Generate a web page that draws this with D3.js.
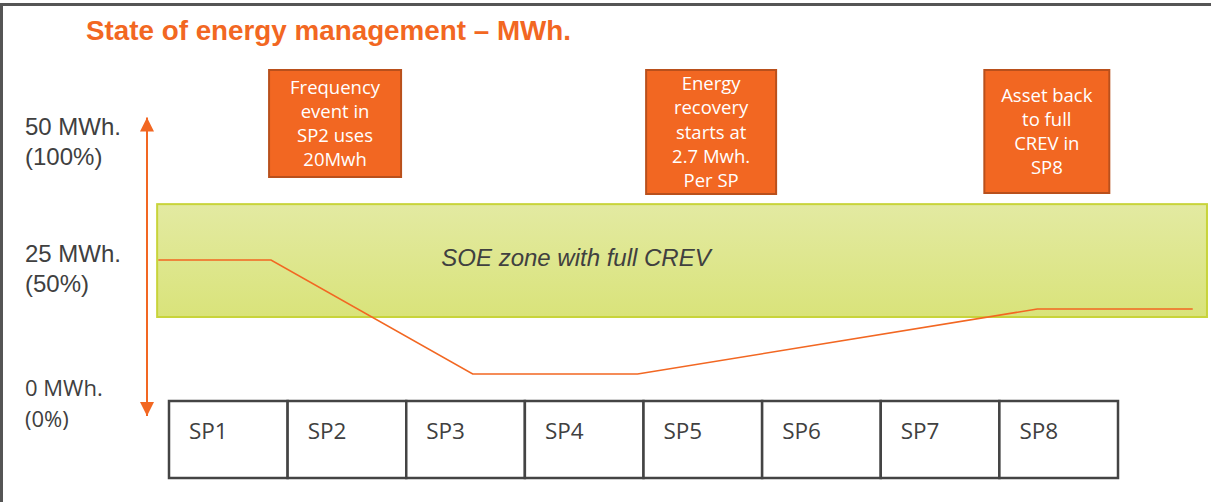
<!DOCTYPE html>
<html><head><meta charset="utf-8">
<script src="https://cdn.jsdelivr.net/npm/d3@7"></script>
<style>html,body{margin:0;padding:0;background:#fff;}svg{display:block;}</style>
</head><body>
<svg id="c" width="1211" height="502"></svg>
<script>
// ---- data ----
const title = "State of energy management \u2013 MWh.";
const periods = ["SP1","SP2","SP3","SP4","SP5","SP6","SP7","SP8"];
const yTicks = [50, 25, 0];
const yTickLabels = [["50 MWh.","(100%)"],["25 MWh.","(50%)"],["0 MWh.","(0%)"]];
// state of energy path: position in SP units (0 = start of SP1) and MWh
const soePos = [-0.09, 0.86, 2.56, 3.95, 7.32, 8.63];
const soeMWh = [25, 25, 5, 5, 16.4, 16.4];
const zoneMWh = [15, 34.8];
const zonePos = [-0.1, 8.75];
const zoneLabel = "SOE zone with full CREV";
const notes = [
  {pos: 1.40, lines: ["Frequency","event in","SP2 uses","20Mwh"]},
  {pos: 4.57, lines: ["Energy","recovery","starts at","2.7 Mwh.","Per SP"]},
  {pos: 7.40, lines: ["Asset back","to full","CREV in","SP8"]}
];

// ---- drawing ----
const svg = d3.select("#c");
const orange = "#F26722";
const x = d3.scaleLinear().domain([0, 8]).range([169, 1118]);
const y = d3.scaleLinear().domain([0, 50]).range([402.5, 117.5]);

// outer frame
svg.append("path").attr("d","M1.5,502 L1.5,4.5 L1211,4.5")
  .attr("fill","none").attr("stroke","#555").attr("stroke-width",3);

svg.append("text").text(title).attr("x",86).attr("y",40)
  .attr("font-family","Liberation Sans, Arial, sans-serif").attr("font-weight","bold")
  .attr("font-size",27.8).attr("fill",orange);

// gradient for zone
const defs = svg.append("defs");
const g = defs.append("linearGradient").attr("id","zg").attr("x1",0).attr("y1",0).attr("x2",0).attr("y2",1);
g.append("stop").attr("offset","0%").attr("stop-color","#E3EAA2");
g.append("stop").attr("offset","100%").attr("stop-color","#D9E37A");
defs.append("marker").attr("id","ah").attr("viewBox","0 0 10 10").attr("refX",10).attr("refY",5)
  .attr("markerWidth",14).attr("markerHeight",15).attr("markerUnits","userSpaceOnUse").attr("orient","auto")
  .append("path").attr("d","M0,0 L10,5 L0,10 Z").attr("fill",orange);

// zone band
svg.append("rect").attr("x",x(zonePos[0])).attr("y",y(zoneMWh[1]))
  .attr("width",x(zonePos[1])-x(zonePos[0])).attr("height",y(zoneMWh[0])-y(zoneMWh[1]))
  .attr("fill","url(#zg)").attr("stroke","#C8D43A").attr("stroke-width",2);
svg.append("text").text(zoneLabel).attr("x",576).attr("y",266)
  .attr("text-anchor","middle").attr("font-family","Liberation Sans, Arial, sans-serif")
  .attr("font-style","italic").attr("font-size",24).attr("fill","#404040");

// y axis double arrow
svg.append("line").attr("x1",147).attr("x2",147).attr("y1",y(24)).attr("y2",y(50))
  .attr("stroke",orange).attr("stroke-width",2).attr("marker-end","url(#ah)");
svg.append("line").attr("x1",147).attr("x2",147).attr("y1",y(26)).attr("y2",416)
  .attr("stroke",orange).attr("stroke-width",2).attr("marker-end","url(#ah)");

// y labels
yTicks.forEach((t,i)=>{
  const base = [135, 262, 396][i];
  const tx = svg.append("text").attr("font-family", i===2 ? "Open Sans, sans-serif" : "Liberation Sans, Arial, sans-serif")
    .attr("font-size", i===2 ? 22 : 24).attr("fill","#404040");
  yTickLabels[i].forEach((l,j)=>{
    tx.append("tspan").attr("x",25).attr("y",base + j*(i===2 ? 31 : 30)).text(l);
  });
});

// SP boxes
const boxTop = 401, boxBot = 478;
svg.selectAll(".sp").data(periods).join("rect").attr("class","sp")
  .attr("x",(d,i)=>x(i)).attr("y",boxTop).attr("width",x(1)-x(0)).attr("height",boxBot-boxTop)
  .attr("fill","#fff").attr("stroke","#444").attr("stroke-width",2.5);
svg.selectAll(".spl").data(periods).join("text").attr("class","spl")
  .attr("x",(d,i)=>x(i)+20).attr("y",439).text(d=>d)
  .attr("font-family","Open Sans, sans-serif").attr("font-size",22.5).attr("fill","#404040");

// SOE line
const pts = soePos.map((p,i)=>[x(p), y(soeMWh[i])]);
svg.append("path").attr("d",d3.line()(pts)).attr("fill","none").attr("stroke",orange).attr("stroke-width",1.6);

// notes
const bw = [132, 130, 125], bh = [107, 124, 123];
notes.forEach((n,i)=>{
  const cx = x(n.pos);
  svg.append("rect").attr("x",cx-bw[i]/2).attr("y",70).attr("width",bw[i]).attr("height",bh[i])
    .attr("fill",orange).attr("stroke","#B9501C").attr("stroke-width",2);
  const lh = 24.3;
  const n0 = n.lines.length;
  const midY = 70 + bh[i]/2;
  const t = svg.append("text").attr("text-anchor","middle").attr("font-family","Open Sans, sans-serif")
    .attr("font-size",18.5).attr("fill","#fff");
  n.lines.forEach((l,j)=>{
    t.append("tspan").attr("x",cx).attr("y",midY + (j-(n0-1)/2)*lh + 6.5).text(l);
  });
});
</script>
</body></html>
